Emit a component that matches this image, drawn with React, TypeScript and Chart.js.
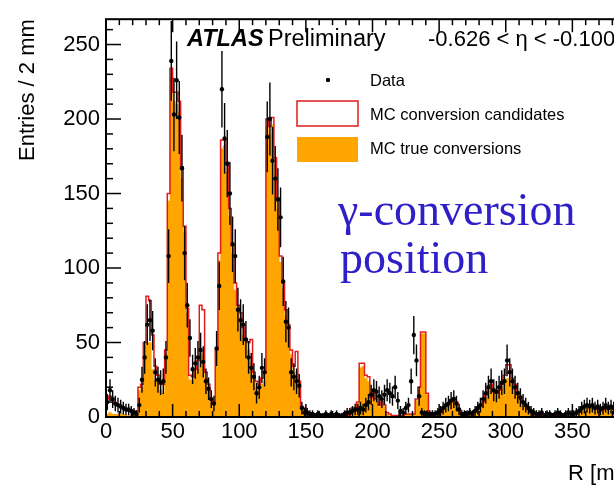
import React, { useEffect, useRef } from "react";
import { Chart, registerables } from "chart.js";

Chart.register(...registerables);

// ---------- data (2 mm bins, lower edges 0,2,...,398) ----------
const BIN_WIDTH = 2;
const R_MIN = 0;
const R_MAX = 400;
const Y_MIN = 0;
const Y_MAX = 267;
const X_TICK_STEP = 50;
const Y_TICK_STEP = 50;
const MINOR_STEP = 10;
const ERROR_SCALE = 3; // event weight used for the data error bars

const dataCounts = [
  10, 18, 12, 9, 8, 7, 6, 5, 5, 4,
  3, 2, 8, 25, 40, 62, 65, 58, 30, 25,
  23, 24, 40, 108, 239, 203, 226, 201, 167, 110,
  75, 53, 32, 36, 40, 45, 37, 24, 19, 12,
  9, 46, 88, 220, 187, 170, 150, 116, 108, 72,
  65, 62, 52, 40, 33, 27, 16, 20, 33, 30,
  188, 200, 172, 160, 146, 134, 91, 64, 60, 30,
  27, 24, 21, 6, 3, 3, 2, 2, 1, 2,
  1, 1, 2, 1, 2, 1, 2, 1, 1, 2,
  3, 3, 4, 5, 5, 6, 5, 8, 10, 15,
  18, 17, 14, 12, 15, 18, 16, 14, 20, 11,
  4, 3, 6, 8, 24, 55, 38, 14, 3, 2,
  2, 2, 2, 2, 3, 4, 6, 8, 9, 11,
  12, 9, 5, 2, 2, 2, 3, 2, 4, 6,
  8, 12, 16, 20, 24, 18, 17, 20, 23, 24,
  38, 30, 24, 20, 16, 13, 10, 8, 6, 4,
  3, 2, 2, 3, 1, 2, 2, 1, 2, 3,
  2, 1, 2, 3, 2, 2, 3, 4, 6, 7,
  8, 7, 8, 6, 7, 5, 6, 8, 6, 7,
  6, 5, 6, 5, 4, 5, 4, 3, 4, 3,
];

const mcCandidates = [
  12, 14, 11, 9, 8, 7, 6, 5, 4, 4,
  3, 4, 20, 22, 50, 81, 78, 55, 34, 28,
  24, 22, 45, 150, 234, 218, 218, 212, 168, 128,
  73, 28, 27, 32, 38, 75, 72, 30, 22, 12,
  10, 45, 110, 186, 186, 171, 140, 115, 90, 75,
  70, 60, 52, 50, 52, 30, 24, 22, 26, 30,
  200, 195, 201, 174, 147, 108, 90, 72, 62, 45,
  34, 44, 24, 7, 6, 2, 2, 1, 1, 1,
  1, 1, 1, 1, 1, 1, 1, 1, 1, 1,
  1, 2, 6, 6, 10, 36, 36, 28, 27, 13,
  18, 12, 8, 10, 8, 3, 2, 1, 1, 1,
  1, 1, 2, 2, 2, 2, 12, 20, 57, 57,
  16, 3, 2, 2, 2, 3, 6, 7, 9, 11,
  13, 10, 4, 2, 1, 2, 2, 3, 4, 6,
  8, 10, 15, 20, 22, 17, 16, 18, 22, 28,
  35, 35, 26, 22, 17, 14, 10, 8, 5, 3,
  2, 2, 1, 1, 1, 1, 1, 1, 1, 1,
  1, 1, 1, 2, 2, 2, 2, 4, 6, 7,
  7, 8, 7, 6, 6, 6, 5, 6, 6, 6,
  5, 5, 5, 5, 4, 4, 4, 3, 3, 3,
];

const mcTrue = [
  2, 3, 2, 2, 2, 2, 2, 1, 1, 1,
  1, 2, 18, 20, 48, 50, 50, 32, 25, 24,
  18, 16, 42, 145, 228, 212, 210, 205, 160, 124,
  70, 25, 25, 30, 32, 44, 42, 26, 18, 10,
  9, 44, 105, 180, 182, 165, 135, 110, 85, 72,
  66, 55, 50, 45, 37, 26, 20, 20, 22, 24,
  195, 190, 196, 170, 140, 104, 86, 68, 60, 42,
  30, 28, 23, 6, 5, 1, 1, 1, 1, 1,
  0, 1, 0, 0, 1, 0, 0, 1, 1, 1,
  1, 2, 6, 6, 9, 33, 34, 26, 24, 12,
  15, 10, 7, 8, 7, 2, 1, 1, 1, 0,
  0, 1, 1, 2, 2, 2, 11, 18, 56, 56,
  15, 3, 1, 1, 1, 2, 5, 6, 8, 10,
  12, 9, 3, 1, 1, 1, 1, 2, 3, 5,
  7, 9, 13, 18, 20, 16, 15, 17, 20, 22,
  26, 25, 22, 19, 15, 12, 9, 7, 4, 3,
  2, 1, 1, 1, 0, 1, 1, 0, 1, 1,
  0, 1, 1, 1, 1, 1, 2, 3, 5, 6,
  6, 6, 6, 5, 5, 5, 5, 5, 5, 5,
  4, 4, 4, 4, 3, 3, 3, 2, 2, 2,
];

const LABEL_DATA = "Data";
const LABEL_CAND = "MC conversion candidates";
const LABEL_TRUE = "MC true conversions";
const X_TITLE = "R [mm]";
const Y_TITLE = "Entries / 2 mm";
const ETA_TEXT = "-0.626 < \u03b7 < -0.100";
const NOTE_LINES = ["\u03b3-conversion", "position"];

// ---------- styles ----------
const SANS = '"Liberation Sans", Arial, Helvetica, sans-serif';
const SERIF = '"Liberation Serif", "Times New Roman", serif';
const ORANGE = "#ffa500";
const RED = "#e01c1c";
const BLUE = "#2e1fc8";

const CANVAS_W = 660;
const CANVAS_H = 487;

function histPoints(values: number[]) {
  const pts = values.map((v, i) => ({ x: R_MIN + i * BIN_WIDTH, y: v }));
  pts.push({ x: R_MIN + values.length * BIN_WIDTH, y: values[values.length - 1] });
  return pts;
}

function line(ctx: CanvasRenderingContext2D, x1: number, y1: number, x2: number, y2: number) {
  ctx.beginPath();
  ctx.moveTo(x1, y1);
  ctx.lineTo(x2, y2);
  ctx.stroke();
}

const decorPlugin = {
  id: "atlasDecor",
  afterDatasetsDraw(chart: any) {
    const { ctx, chartArea, scales } = chart;
    const x = scales.x;
    const y = scales.y;
    ctx.save();
    ctx.beginPath();
    ctx.rect(chartArea.left, chartArea.top, chartArea.right - chartArea.left, chartArea.bottom - chartArea.top);
    ctx.clip();
    ctx.strokeStyle = "#000";
    ctx.lineWidth = 1.4;
    dataCounts.forEach((v, i) => {
      const cx = x.getPixelForValue(R_MIN + i * BIN_WIDTH + BIN_WIDTH / 2);
      const cy = y.getPixelForValue(v);
      const err = Math.sqrt(v * ERROR_SCALE);
      line(ctx, cx, y.getPixelForValue(v + err), cx, y.getPixelForValue(Math.max(0, v - err)));
      line(ctx, x.getPixelForValue(R_MIN + i * BIN_WIDTH), cy, x.getPixelForValue(R_MIN + (i + 1) * BIN_WIDTH), cy);
    });
    ctx.restore();
  },
  afterDraw(chart: any) {
    const { ctx, chartArea, scales } = chart;
    const x = scales.x;
    const y = scales.y;
    const { left, right, top, bottom } = chartArea;
    ctx.save();
    // frame
    ctx.strokeStyle = "#000";
    ctx.lineWidth = 2;
    ctx.strokeRect(left, top, right - left, bottom - top);
    // inner ticks
    ctx.lineWidth = 1.5;
    for (let v = R_MIN; v <= R_MAX; v += MINOR_STEP) {
      const px = x.getPixelForValue(v);
      const len = v % X_TICK_STEP === 0 ? 13 : 6;
      line(ctx, px, bottom, px, bottom - len);
      line(ctx, px, top, px, top + len);
    }
    for (let v = Y_MIN; v <= Y_MAX; v += MINOR_STEP) {
      const py = y.getPixelForValue(v);
      const len = v % Y_TICK_STEP === 0 ? 15 : 7;
      line(ctx, left, py, left + len, py);
      line(ctx, right, py, right - len, py);
    }
    // header texts
    ctx.fillStyle = "#000";
    ctx.textBaseline = "alphabetic";
    ctx.textAlign = "left";
    ctx.font = `italic bold 23.5px ${SANS}`;
    ctx.fillText("ATLAS", 187, 46);
    ctx.font = `23.5px ${SANS}`;
    ctx.fillText("Preliminary", 268, 46);
    ctx.font = `22px ${SANS}`;
    ctx.fillText(ETA_TEXT, 428, 46);

    // legend
    ctx.textBaseline = "middle";
    ctx.font = `16.5px ${SANS}`;
    ctx.beginPath();
    ctx.arc(328, 80, 2.2, 0, Math.PI * 2);
    ctx.fill();
    ctx.fillText(LABEL_DATA, 370, 81);
    ctx.fillStyle = "#fff";
    ctx.fillRect(297, 101, 61, 25);
    ctx.strokeStyle = RED;
    ctx.lineWidth = 1.5;
    ctx.strokeRect(297, 101, 61, 25);
    ctx.fillStyle = "#000";
    ctx.fillText(LABEL_CAND, 370, 115);
    ctx.fillStyle = ORANGE;
    ctx.fillRect(297, 137, 61, 25);
    ctx.fillStyle = "#000";
    ctx.fillText(LABEL_TRUE, 370, 149);

    // annotation
    ctx.textBaseline = "alphabetic";
    ctx.fillStyle = BLUE;
    ctx.font = `46px ${SERIF}`;
    ctx.fillText(NOTE_LINES[0], 338, 225);
    ctx.fillText(NOTE_LINES[1], 340, 273);
    ctx.restore();
  },
};

export default function App() {
  const canvasRef = useRef<HTMLCanvasElement | null>(null);

  useEffect(() => {
    if (!canvasRef.current) return;
    const chart = new Chart(canvasRef.current, {
      type: "line",
      data: {
        datasets: [
          {
            label: LABEL_DATA,
            data: dataCounts.map((v, i) => ({ x: R_MIN + i * BIN_WIDTH + BIN_WIDTH / 2, y: v })),
            showLine: false,
            pointRadius: 2.2,
            pointBackgroundColor: "#000",
            pointBorderWidth: 0,
            borderColor: "#000",
            order: 0,
          },
          {
            label: LABEL_CAND,
            data: histPoints(mcCandidates),
            stepped: "before",
            borderColor: RED,
            borderWidth: 1.5,
            pointRadius: 0,
            fill: false,
            order: 1,
          },
          {
            label: LABEL_TRUE,
            data: histPoints(mcTrue),
            stepped: "before",
            borderColor: ORANGE,
            borderWidth: 0.5,
            backgroundColor: ORANGE,
            pointRadius: 0,
            fill: "origin",
            order: 2,
          },
        ],
      },
      options: {
        animation: false,
        responsive: false,
        events: [],
        layout: { padding: { top: 11, right: CANVAS_W - 639, left: 0, bottom: 0 } },
        plugins: {
          legend: { display: false },
          tooltip: { enabled: false },
        },
        scales: {
          x: {
            type: "linear",
            min: R_MIN,
            max: R_MAX,
            grid: { display: false, drawTicks: false },
            border: { display: false },
            ticks: {
              stepSize: X_TICK_STEP,
              includeBounds: false,
              autoSkip: false,
              maxRotation: 0,
              padding: 2,
              color: "#000",
              font: { family: SANS, size: 22 },
            },
            title: {
              display: true,
              text: X_TITLE,
              align: "end",
              color: "#000",
              font: { family: SANS, size: 22 },
              padding: { top: 0, bottom: 0 },
            },
            afterFit: (scale: any) => {
              scale.height = 70;
            },
          },
          y: {
            type: "linear",
            min: Y_MIN,
            max: Y_MAX,
            grid: { display: false, drawTicks: false },
            border: { display: false },
            ticks: {
              stepSize: Y_TICK_STEP,
              includeBounds: false,
              autoSkip: false,
              padding: 6,
              color: "#000",
              font: { family: SANS, size: 22 },
            },
            title: {
              display: true,
              text: Y_TITLE,
              align: "end",
              color: "#000",
              font: { family: SANS, size: 22 },
              padding: { top: 15, bottom: 0 },
            },
            afterFit: (scale: any) => {
              scale.width = 106;
            },
          },
        },
      },
      plugins: [decorPlugin],
    } as any);
    return () => chart.destroy();
  }, []);

  return (
    <div
      style={{
        position: "fixed",
        left: 0,
        top: 0,
        width: 614,
        height: 487,
        overflow: "hidden",
        background: "#fff",
      }}
    >
      <canvas ref={canvasRef} width={CANVAS_W} height={CANVAS_H} style={{ display: "block" }} />
    </div>
  );
}
